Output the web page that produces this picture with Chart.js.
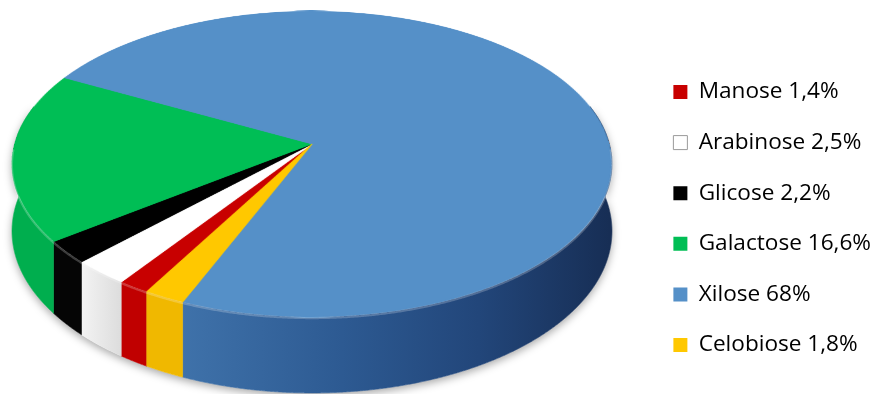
<!DOCTYPE html>
<html>
<head>
<meta charset="utf-8">
<style>
  html, body { margin: 0; padding: 0; background: #ffffff; }
  canvas { display: block; }
</style>
<script src="https://cdn.jsdelivr.net/npm/chart.js@4.4.1/dist/chart.umd.min.js"></script>
</head>
<body>
<canvas id="chart" width="873" height="394"></canvas>
<script>
// Sugar composition of the hydrolysate (%)
const categories = ['Manose', 'Arabinose', 'Glicose', 'Galactose', 'Xilose', 'Celobiose'];
const percentages = [1.4, 2.5, 2.2, 16.6, 68, 1.8];

// Face colours and the colours of the rim walls
const topColors  = ['#C80000', '#FFFFFF', '#000000', '#00BE55', '#5590C8', '#FFC800'];
const sideColors = ['#C00000', '#E6E6E6', '#050505', '#00AE4E', null, '#F0B800'];

// Tilted-disc camera: centre of the disc on screen, half axes, foreshortening, thickness
const view = { cx: 312, apexY: 144, a: 297.4, b: 150.4, k: 0.1307, depth: 66 };

const formatPct = v => String(v).replace('.', ',') + '%';

// screen position of a rim point at angle theta, `down` pixels below the top face
function project(theta, down) {
  const u = Math.cos(theta), v = Math.sin(theta);
  const s = 1 / (1 - view.k * v);
  return [view.cx + view.a * u * s, view.apexY + (view.b * v + down) * s];
}

function traceRim(ctx, from, to, down, first) {
  const n = Math.max(2, Math.ceil(Math.abs(to - from) / 0.004));
  for (let i = 0; i <= n; i++) {
    const [x, y] = project(from + (to - from) * i / n, down);
    if (i === 0 && first) ctx.moveTo(x, y); else ctx.lineTo(x, y);
  }
}

function wallPath(ctx, lo, hi) {
  ctx.beginPath();
  traceRim(ctx, lo, hi, 0, true);
  traceRim(ctx, hi, lo, view.depth, false);
  ctx.closePath();
}

const SRC_R = 400;
const offscreen = document.createElement('canvas');
offscreen.width = offscreen.height = SRC_R * 2;

// Renders the library's arcs as a thick disc seen in perspective
const pie3d = {
  id: 'pie3d',
  beforeDatasetsDraw(chart) {
    const ctx = chart.ctx;
    const arcs = chart.getDatasetMeta(0).data;
    const TAU = Math.PI * 2;
    const EXTRA = 0.26;

    // soft shadow under the rim
    ctx.save();
    ctx.shadowColor = 'rgba(0,0,0,0.35)';
    ctx.shadowBlur = 8;
    ctx.shadowOffsetY = 3;
    wallPath(ctx, -EXTRA, Math.PI + EXTRA);
    ctx.fillStyle = '#ffffff';
    ctx.fill();
    ctx.restore();

    const blueSide = ctx.createLinearGradient(view.cx - view.a, 0, view.cx + view.a, 0);
    blueSide.addColorStop(0.0, '#4C82BE');
    blueSide.addColorStop(0.28, '#3F72AA');
    blueSide.addColorStop(0.55, '#2D5A92');
    blueSide.addColorStop(0.78, '#22467A');
    blueSide.addColorStop(1.0, '#172E55');

    const whiteSide = ctx.createLinearGradient(80, 0, 122, 0);
    whiteSide.addColorStop(0, '#F4F4F4');
    whiteSide.addColorStop(1, '#DCDCDC');

    arcs.forEach((arc, i) => {
      const { startAngle, endAngle } = arc.getProps(['startAngle', 'endAngle'], true);
      for (const k of [-1, 0, 1]) {
        const lo = Math.max(startAngle, k * TAU - EXTRA);
        const hi = Math.min(endAngle, k * TAU + Math.PI + EXTRA);
        if (hi <= lo) continue;
        const fill = i === 4 ? blueSide : (i === 1 ? whiteSide : sideColors[i]);
        ctx.save();
        wallPath(ctx, lo, hi);
        ctx.fillStyle = fill;
        ctx.fill();
        ctx.strokeStyle = fill;
        ctx.lineWidth = 0.6;
        ctx.stroke();
        ctx.restore();
      }
    });

    // top face: draw the arcs flat, then lay them onto the disc row by row
    const a0 = arcs[0];
    const r = a0.outerRadius || 1;
    const octx = offscreen.getContext('2d');
    octx.setTransform(1, 0, 0, 1, 0, 0);
    octx.clearRect(0, 0, offscreen.width, offscreen.height);
    const sc = SRC_R / r;
    octx.setTransform(sc, 0, 0, sc, SRC_R - a0.x * sc, SRC_R - a0.y * sc);
    arcs.forEach(arc => arc.draw(octx));
    octx.setTransform(1, 0, 0, 1, 0, 0);

    const { cx, apexY, a, b, k } = view;
    const vAt = y => {
      const dy = y - apexY;
      return Math.max(-1, Math.min(1, dy / (b + k * dy)));
    };
    const yTop = Math.floor(apexY - b / (1 + k));
    const yBot = Math.ceil(apexY + b / (1 - k));
    ctx.save();
    ctx.imageSmoothingEnabled = true;
    ctx.imageSmoothingQuality = 'high';
    for (let y = yTop; y < yBot; y++) {
      const v1 = vAt(y), v2 = vAt(y + 1);
      if (v2 <= v1) continue;
      const s = 1 / (1 - k * (v1 + v2) / 2);
      ctx.drawImage(offscreen, 0, SRC_R * (1 + v1), SRC_R * 2, SRC_R * (v2 - v1),
                    cx - a * s, y, 2 * a * s, 1);
    }
    ctx.restore();

    // light bevel on the front edge of the top face
    ctx.save();
    ctx.beginPath();
    traceRim(ctx, 0.03, Math.PI - 0.03, 1, true);
    ctx.strokeStyle = 'rgba(255,255,255,0.22)';
    ctx.lineWidth = 2;
    ctx.stroke();
    ctx.restore();

    return false;
  }
};

Chart.defaults.font.family = "'Open Sans', 'Noto Sans', sans-serif";

new Chart(document.getElementById('chart'), {
  type: 'pie',
  data: {
    labels: categories,
    datasets: [{
      data: percentages,
      backgroundColor: topColors,
      borderColor: topColors,
      borderWidth: 1,
      borderAlign: 'inner',
      clip: false
    }]
  },
  options: {
    responsive: false,
    animation: false,
    devicePixelRatio: 1,
    rotation: 209.5,
    layout: { padding: { top: 43, right: -8, bottom: 0, left: 0 } },
    plugins: {
      tooltip: { enabled: false },
      legend: {
        position: 'right',
        align: 'center',
        labels: {
          boxWidth: 14,
          boxHeight: 14,
          padding: 28,
          color: '#000000',
          font: { size: 22.6 },
          generateLabels() {
            return categories.map((name, i) => ({
              text: name + ' ' + formatPct(percentages[i]),
              fillStyle: topColors[i],
              strokeStyle: i === 1 ? '#9A9A9A' : topColors[i],
              lineWidth: i === 1 ? 1 : 0,
              fontColor: '#000000',
              hidden: false,
              index: i
            }));
          }
        }
      }
    }
  },
  plugins: [pie3d]
});
</script>
</body>
</html>
